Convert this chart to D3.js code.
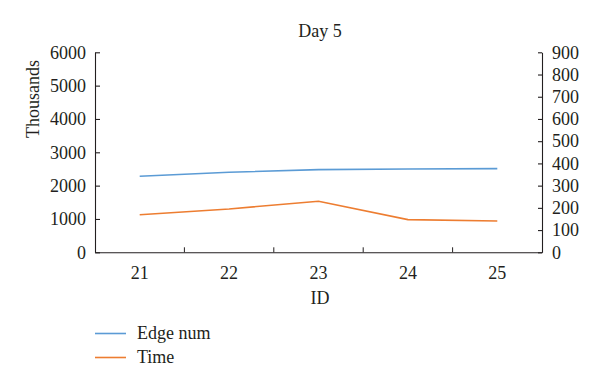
<!DOCTYPE html>
<html>
<head>
<meta charset="utf-8">
<script src="https://cdn.jsdelivr.net/npm/d3@7"></script>
<style>
html,body{margin:0;padding:0;background:#fff;}
text{font-family:"Liberation Serif","Times New Roman",serif;fill:#231f20;}
</style>
</head>
<body>
<svg id="chart" width="600" height="384"></svg>
<script>
const categories = ["21", "22", "23", "24", "25"];
const edgeNum = [2280, 2400, 2480, 2500, 2510];
const timeVals = [169, 195, 230, 147, 141];
const leftTicks = [0, 1000, 2000, 3000, 4000, 5000, 6000];
const rightTicks = [0, 100, 200, 300, 400, 500, 600, 700, 800, 900];
const seriesNames = ["Edge num", "Time"];
const colors = ["#5b9bd5", "#ed7d31"];

const svg = d3.select("#chart");
const m = {left: 95, right: 542, top: 52.3, bottom: 252.3};
const fs = 18;

const x = d3.scaleBand().domain(categories).range([m.left, m.right]).padding(0);
const yL = d3.scaleLinear().domain([0, 6000]).range([m.bottom, m.top]);
const yR = d3.scaleLinear().domain([0, 900]).range([m.bottom, m.top]);

// Title
svg.append("text").attr("x", 320).attr("y", 37).attr("text-anchor", "middle")
  .style("font-size", fs + "px").text("Day 5");

// Left axis
const gL = svg.append("g").attr("transform", `translate(${m.left},0)`)
  .call(d3.axisLeft(yL).tickValues(leftTicks).tickFormat(d3.format("d")).tickSizeInner(-5).tickSizeOuter(0).tickPadding(9));
// Right axis
const gR = svg.append("g").attr("transform", `translate(${m.right},0)`)
  .call(d3.axisRight(yR).tickValues(rightTicks).tickFormat(d3.format("d")).tickSizeInner(-4).tickSizeOuter(0).tickPadding(10));
// Bottom axis: ticks at band boundaries
const gB = svg.append("g").attr("transform", `translate(0,${m.bottom})`)
  .call(d3.axisBottom(x).tickSize(0).tickPadding(14));
gB.selectAll(".tick text").attr("dy", "0.71em");
const bounds = categories.slice(1).map(c => x(c));
gB.selectAll("line.bnd").data(bounds).enter().append("line").attr("class", "bnd")
  .attr("x1", d => d).attr("x2", d => d).attr("y1", 0).attr("y2", -5)
  .attr("stroke", "#231f20").attr("stroke-width", 1);

[gL, gR, gB].forEach(g => {
  g.selectAll("path.domain").attr("stroke", "#231f20").attr("stroke-width", 1.1);
  g.selectAll(".tick line").attr("stroke", "#231f20").attr("stroke-width", 1.1);
  g.selectAll(".tick text").style("font-size", fs + "px").style("font-family", '"Liberation Serif","Times New Roman",serif').attr("fill", "#231f20");
});

// Axis titles
svg.append("text").attr("transform", "translate(39,99) rotate(-90)").attr("text-anchor", "middle")
  .style("font-size", fs + "px").text("Thousands");
svg.append("text").attr("x", 320).attr("y", 304).attr("text-anchor", "middle")
  .style("font-size", fs + "px").text("ID");

// Lines
const lineL = d3.line().x((d, i) => x(categories[i]) + x.bandwidth() / 2).y(d => yL(d));
const lineR = d3.line().x((d, i) => x(categories[i]) + x.bandwidth() / 2).y(d => yR(d));
svg.append("path").attr("d", lineL(edgeNum)).attr("fill", "none").attr("stroke", colors[0]).attr("stroke-width", 1.6);
svg.append("path").attr("d", lineR(timeVals)).attr("fill", "none").attr("stroke", colors[1]).attr("stroke-width", 1.6);

// Legend
const legY = [333.5, 357.5];
seriesNames.forEach((name, i) => {
  svg.append("line").attr("x1", 95).attr("x2", 126).attr("y1", legY[i]).attr("y2", legY[i])
    .attr("stroke", colors[i]).attr("stroke-width", 1.6);
  svg.append("text").attr("x", 137).attr("y", legY[i] + 5.5).style("font-size", fs + "px").text(name);
});
</script>
</body>
</html>
